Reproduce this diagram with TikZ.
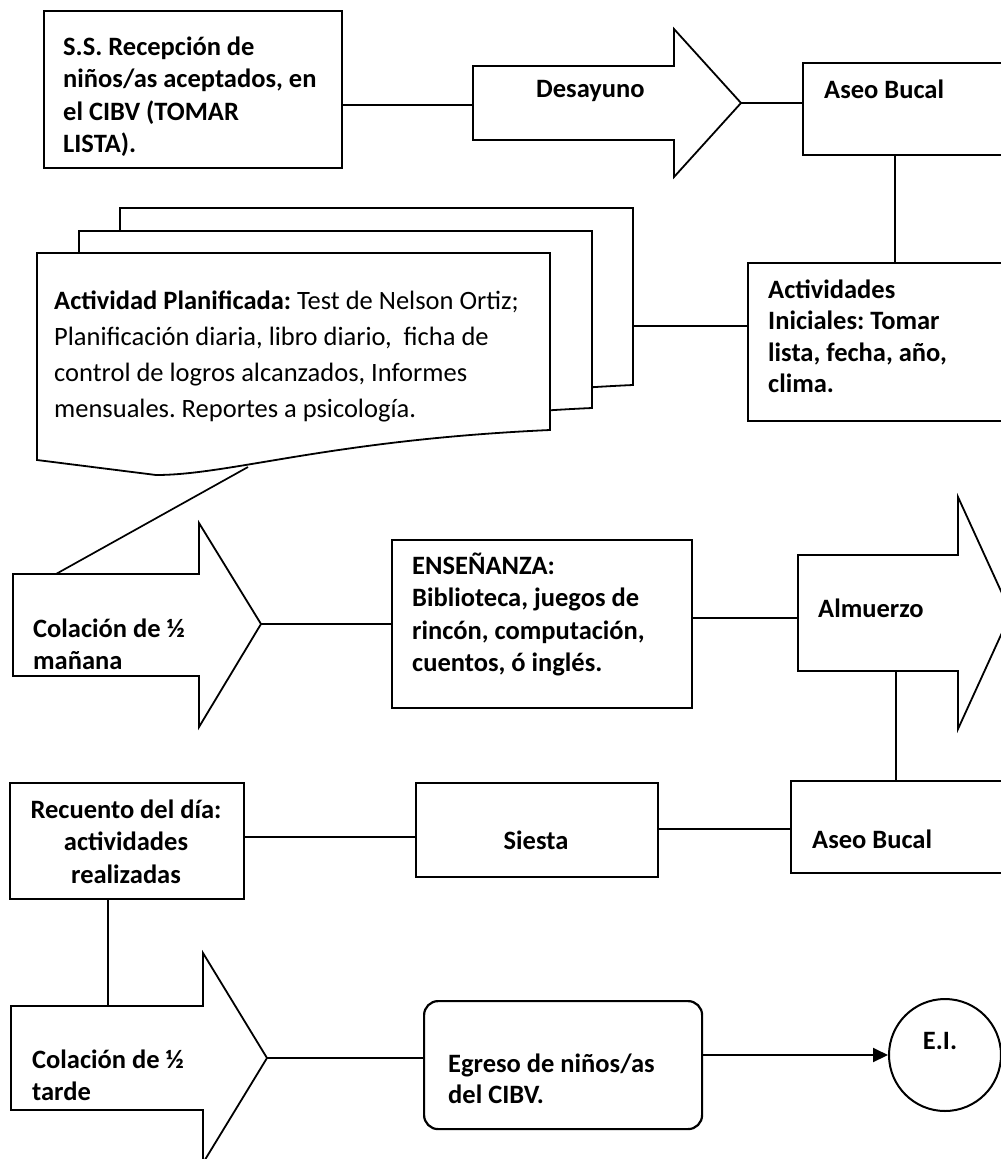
\documentclass[tikz,border=0pt]{standalone}
\usepackage{fontspec}
\setmainfont{Carlito}
\usetikzlibrary{arrows.meta}

% multi-line text blocks whose baseline is the first line
\newcommand\txtl[1]{\begin{tabular}[t]{@{}l@{}}#1\end{tabular}}
\newcommand\txtc[1]{\begin{tabular}[t]{@{}c@{}}#1\end{tabular}}

\tikzset{
  boxline/.style={draw=black, line width=2.2pt, inner sep=0pt, anchor=north west},
  shapeline/.style={draw=black, line width=1.8pt, line join=miter, fill=white},
  link/.style={draw=black, line width=1.7pt},
  lbl/.style={inner sep=0pt, anchor=base west,
              font=\bfseries\fontsize{26.5}{32.5}\selectfont},
  clbl/.style={inner sep=0pt, anchor=base,
              font=\bfseries\fontsize{26.5}{32.5}\selectfont},
  docsheet/.pic={
    \draw[shapeline] (0,0) -- (513,0) -- (513,177)
      .. controls (293,187) and (193,222) .. (119,222) -- (0,207) -- cycle;
  },
}

\begin{document}
\frenchspacing
\begin{tikzpicture}[x=1pt,y=-1pt]
\useasboundingbox (0,0) rectangle (1001,1159);
\clip (0,0) rectangle (1001,1159);

% ---------- first row ----------
\node[boxline, minimum width=298pt, minimum height=157pt] (recep) at (43,10) {};
\node[lbl] (recepT) at (63,55) {\txtl{S.S. Recepción de\\niños/as aceptados, en\\el CIBV (TOMAR\\LISTA).}};

\draw[shapeline] (473,66) -- (674,66) -- (674,29) -- (741,103) -- (674,177)
  -- (674,140) -- (473,140) -- cycle;
\coordinate (desL) at (473,105);
\coordinate (desR) at (741,103);
\node[lbl] (desT) at (536,97) {Desayuno};

\node[boxline, minimum width=210pt, minimum height=92pt] (aseoA) at (802,62) {};
\node[lbl] (aseoAT) at (824,98) {Aseo Bucal};

\draw[link] (recep.east |- desL) -- (desL);
\draw[link] (desR) -- (aseoA.west |- desR);

% ---------- second row ----------
\node[boxline, minimum width=265pt, minimum height=158pt] (actI) at (747,262) {};
\node[lbl, font=\bfseries\fontsize{26.5}{31.5}\selectfont] (actIT) at (768,298)
  {\txtl{Actividades\\Iniciales: Tomar\\lista, fecha, año,\\clima.}};
\draw[link] (aseoA.south -| 895,0) -- (actI.north -| 895,0);

% stacked documents
\pic at (120,208) {docsheet};
\pic at (79,231) {docsheet};
\pic at (37,253) {docsheet};
\coordinate (docR) at (632,326);
\coordinate (docB) at (248,467);
\node[inner sep=0pt, anchor=base west, font=\fontsize{26.5}{36.3}\selectfont] (docT) at (54,309)
  {\txtl{\textbf{Actividad Planificada:} Test de Nelson Ortiz;\\
   Planificación diaria, libro diario,\ \ ficha de\\
   control de logros alcanzados, Informes\\
   mensuales. Reportes a psicología.}};
\draw[link] (docR) -- (actI.west |- docR);

% ---------- third row ----------
\draw[shapeline] (13,574) -- (199,574) -- (199,523) -- (261,624) -- (199,727)
  -- (199,676) -- (13,676) -- cycle;
\coordinate (colMtop) at (56,574);
\coordinate (colMtip) at (261,624);
\node[lbl] (colMT) at (33,637) {\txtl{Colación de ½\\mañana}};
\draw[link] (docB) -- (colMtop);

\node[boxline, minimum width=300pt, minimum height=168pt] (ensen) at (391,539) {};
\node[lbl] (ensenT) at (412,574) {\txtl{ENSEÑANZA:\\Biblioteca, juegos de\\rincón, computación,\\cuentos, ó inglés.}};
\draw[link] (colMtip) -- (ensen.west |- colMtip);

\draw[shapeline] (798,555) -- (958,555) -- (958,497) -- (1011,613) -- (958,729)
  -- (958,671) -- (798,671) -- cycle;
\coordinate (almL) at (798,618);
\coordinate (almB) at (896,671);
\node[lbl] (almT) at (818,617) {Almuerzo};
\draw[link] (ensen.east |- almL) -- (almL);

% ---------- fourth row ----------
\node[boxline, minimum width=220pt, minimum height=92pt] (aseoB) at (790,780) {};
\node[lbl] (aseoBT) at (812,848) {Aseo Bucal};
\draw[link] (almB) -- (aseoB.north -| almB);

\node[boxline, minimum width=242pt, minimum height=94pt] (siesta) at (415,782) {};
\node[clbl] (siestaT) at (536,849) {Siesta};
\draw[link] (siesta.east |- 0,829) -- (aseoB.west |- 0,829);

\node[boxline, minimum width=234pt, minimum height=116pt] (recu) at (9,782) {};
\node[clbl] (recuT) at (126,818) {\txtc{Recuento del día:\\actividades\\realizadas}};
\draw[link] (recu.east |- 0,837) -- (siesta.west |- 0,837);

% ---------- fifth row ----------
\draw[shapeline] (11,1006) -- (203,1006) -- (203,953) -- (267,1058) -- (203,1163)
  -- (203,1110) -- (11,1110) -- cycle;
\coordinate (colTtop) at (108,1006);
\coordinate (colTtip) at (267,1058);
\node[lbl] (colTT) at (32,1068) {\txtl{Colación de ½\\tarde}};
\draw[link] (recu.south -| colTtop) -- (colTtop);

\node[boxline, rounded corners=14pt, minimum width=278pt, minimum height=128pt] (egreso) at (423,1000) {};
\node[lbl, font=\bfseries\fontsize{26.5}{31}\selectfont] (egresoT) at (448,1072) {\txtl{Egreso de niños/as\\del CIBV.}};
\draw[link] (colTtip) -- (egreso.west |- colTtip);

\node[draw=black, line width=2pt, circle, minimum size=112pt, inner sep=0pt] (ei) at (945,1055) {};
\node[clbl] (eiT) at (940,1049) {E.I.};
\draw[link, line width=2pt, -{Triangle[length=15pt,width=14pt]}] (egreso.east |- ei.west) -- (ei.west);

\end{tikzpicture}
\end{document}
